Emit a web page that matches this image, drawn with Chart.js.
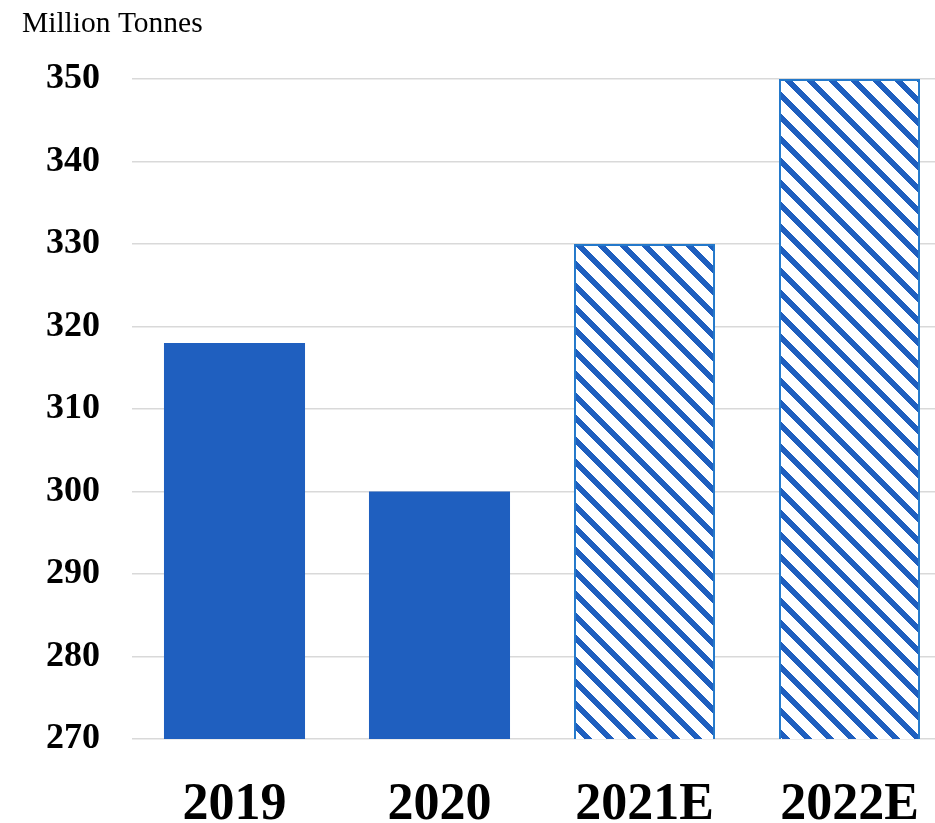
<!DOCTYPE html>
<html>
<head>
<meta charset="utf-8">
<script src="https://cdn.jsdelivr.net/npm/chart.js@4"></script>
<style>
  html, body { margin: 0; padding: 0; background: #fff; overflow: hidden; }
  #wrap { width: 952px; height: 823px; }
</style>
</head>
<body>
<div id="wrap"><canvas id="productionChart"></canvas></div>
<script>
// data
const years = ['2019', '2020', '2021E', '2022E'];
const tonnes = [318, 300, 330, 350];
const isEstimate = [false, false, true, true];
const yTicks = [270, 280, 290, 300, 310, 320, 330, 340, 350];

const blue = '#1F5FBF';
const edgeBlue = '#2479CB';

// diagonal hatch for the estimates, built pixel by pixel so it tiles cleanly
function makeHatch() {
  const s = 22, w = 8;
  const c = document.createElement('canvas');
  c.width = s; c.height = s;
  const g = c.getContext('2d');
  g.fillStyle = '#fff';
  g.fillRect(0, 0, s, s);
  g.fillStyle = blue;
  for (let y = 0; y < s; y++) {
    for (let x = 0; x < s; x++) {
      if (((x - y) % s + s) % s < w) g.fillRect(x, y, 1, 1);
    }
  }
  return g.createPattern(c, 'repeat');
}
const hatch = makeHatch();

// "Million Tonnes" above the axis
const unitLabel = {
  id: 'unitLabel',
  afterDraw(chart) {
    const ctx = chart.ctx;
    ctx.save();
    ctx.font = '29.5px "Liberation Serif"';
    ctx.fillStyle = '#000';
    ctx.textBaseline = 'alphabetic';
    ctx.textAlign = 'left';
    ctx.fillText('Million Tonnes', 22, 32);
    ctx.restore();
  }
};

const ctx = document.getElementById('productionChart').getContext('2d');
const chart = new Chart(ctx, {
  type: 'bar',
  data: {
    labels: years,
    datasets: [{
      data: tonnes,
      backgroundColor: isEstimate.map(e => e ? hatch : blue),
      borderColor: isEstimate.map(e => e ? edgeBlue : blue),
      borderWidth: isEstimate.map(e => e ? 2 : 0),
      borderSkipped: false,
      barPercentage: 0.688,
      categoryPercentage: 1
    }]
  },
  options: {
    responsive: true,
    maintainAspectRatio: false,
    animation: false,
    layout: { padding: { top: 79, right: 0, left: 0, bottom: 0 } },
    plugins: {
      legend: { display: false },
      tooltip: { enabled: false }
    },
    scales: {
      x: {
        grid: { display: false },
        border: { display: false },
        ticks: {
          color: '#000',
          padding: 27,
          font: { family: 'Liberation Serif', size: 52, weight: 'bold' }
        },
        afterFit(scale) { scale.height = 84; }
      },
      y: {
        min: 270,
        max: 350,
        afterBuildTicks(scale) { scale.ticks = yTicks.map(v => ({ value: v })); },
        grid: { color: '#d9d9d9', lineWidth: 1.5, drawTicks: false },
        border: { display: false },
        ticks: {
          color: '#000',
          padding: 32,
          font: { family: 'Liberation Serif', size: 36, weight: 'bold' }
        },
        afterFit(scale) { scale.width = 132; }
      }
    }
  },
  plugins: [unitLabel]
});
</script>
</body>
</html>
